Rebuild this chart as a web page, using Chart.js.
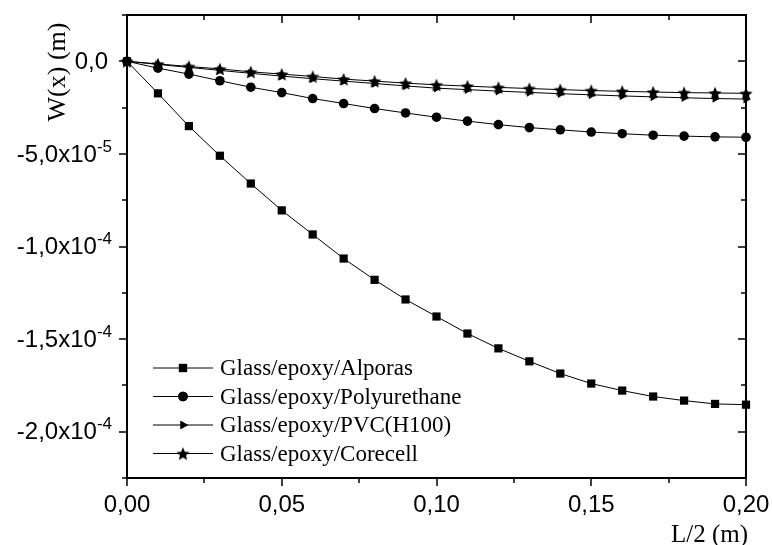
<!DOCTYPE html>
<html>
<head>
<meta charset="utf-8">
<script src="https://cdn.jsdelivr.net/npm/chart.js@4.4.0/dist/chart.umd.min.js"></script>
<style>
  html, body { margin: 0; background: #fff; }
</style>
</head>
<body>
<canvas id="chart" width="772" height="545"></canvas>
<script>
// data (W in metres, x = L/2 in metres)
const xValues = [0, 0.01, 0.02, 0.03, 0.04, 0.05, 0.06, 0.07, 0.08, 0.09, 0.10,
  0.11, 0.12, 0.13, 0.14, 0.15, 0.16, 0.17, 0.18, 0.19, 0.20];
const alporas = [0, -1.73e-5, -3.5e-5, -5.1e-5, -6.6e-5, -8.05e-5, -9.35e-5, -1.065e-4,
  -1.18e-4, -1.286e-4, -1.378e-4, -1.47e-4, -1.55e-4, -1.62e-4, -1.686e-4, -1.74e-4,
  -1.778e-4, -1.81e-4, -1.832e-4, -1.85e-4, -1.854e-4];
const polyurethane = [0, -0.37e-5, -0.69e-5, -1.05e-5, -1.4e-5, -1.69e-5, -2.01e-5, -2.28e-5,
  -2.55e-5, -2.79e-5, -3.02e-5, -3.23e-5, -3.42e-5, -3.58e-5, -3.7e-5, -3.82e-5,
  -3.91e-5, -3.99e-5, -4.04e-5, -4.08e-5, -4.1e-5];
const pvc = [0, -0.17e-5, -0.33e-5, -0.49e-5, -0.65e-5, -0.8e-5, -0.94e-5, -1.07e-5,
  -1.2e-5, -1.33e-5, -1.45e-5, -1.53e-5, -1.61e-5, -1.68e-5, -1.75e-5, -1.81e-5,
  -1.87e-5, -1.92e-5, -1.97e-5, -2.01e-5, -2.04e-5];
const corecell = [0, -0.14e-5, -0.28e-5, -0.41e-5, -0.57e-5, -0.69e-5, -0.82e-5, -0.96e-5,
  -1.07e-5, -1.18e-5, -1.27e-5, -1.34e-5, -1.41e-5, -1.47e-5, -1.53e-5, -1.58e-5,
  -1.62e-5, -1.66e-5, -1.69e-5, -1.71e-5, -1.73e-5];

const seriesNames = ["Glass/epoxy/Alporas", "Glass/epoxy/Polyurethane",
  "Glass/epoxy/PVC(H100)", "Glass/epoxy/Corecell"];

const xTickValues = [0, 0.05, 0.10, 0.15, 0.20];
const xTickLabels = ["0,00", "0,05", "0,10", "0,15", "0,20"];
const xMinorValues = [0.025, 0.075, 0.125, 0.175];
const yTickValues = [0, -5e-5, -1e-4, -1.5e-4, -2e-4];
const yTickMain = ["0,0", "-5,0x10", "-1,0x10", "-1,5x10", "-2,0x10"];
const yTickExp = ["", "-5", "-4", "-4", "-4"];
const yMinorValues = [2.5e-5, -2.5e-5, -7.5e-5, -1.25e-4, -1.75e-4, -2.25e-4];

// filled five-point star used as marker
function makeStar(r) {
  const c = document.createElement("canvas");
  const s = Math.ceil(r * 2 + 2);
  c.width = s; c.height = s;
  const g = c.getContext("2d");
  g.fillStyle = "#000";
  g.beginPath();
  for (let i = 0; i < 10; i++) {
    const rad = i % 2 === 0 ? r : r * 0.45;
    const a = -Math.PI / 2 + i * Math.PI / 5;
    const px = s / 2 + rad * Math.cos(a), py = s / 2 + 0.8 + rad * Math.sin(a);
    if (i === 0) g.moveTo(px, py); else g.lineTo(px, py);
  }
  g.closePath();
  g.fill();
  return c;
}
const starImg = makeStar(7);

function pts(ys) {
  return xValues.map((x, i) => ({ x: x, y: ys[i] }));
}

function series(label, ys, style, radius, rotation) {
  return {
    label: label,
    data: pts(ys),
    borderColor: "#000",
    backgroundColor: "#000",
    borderWidth: 1,
    pointStyle: style,
    pointRadius: radius,
    pointHoverRadius: radius,
    pointRotation: rotation || 0,
    pointBorderWidth: 0,
    pointBackgroundColor: "#000",
    tension: 0,
    clip: false,
  };
}

const axesPlugin = {
  id: "originAxes",
  afterDraw(chart) {
    const ctx = chart.ctx;
    const a = chart.chartArea;
    const xs = chart.scales.x, ys = chart.scales.y;
    ctx.save();
    ctx.strokeStyle = "#000";
    ctx.fillStyle = "#000";

    // frame
    ctx.lineWidth = 2;
    ctx.strokeRect(a.left, a.top, a.right - a.left, a.bottom - a.top);

    // ticks
    ctx.lineWidth = 1.5;
    ctx.beginPath();
    xTickValues.forEach(v => {
      const p = Math.round(xs.getPixelForValue(v));
      ctx.moveTo(p, a.bottom); ctx.lineTo(p, a.bottom + 8);
      ctx.moveTo(p, a.top); ctx.lineTo(p, a.top + 8);
    });
    xMinorValues.forEach(v => {
      const p = Math.round(xs.getPixelForValue(v));
      ctx.moveTo(p, a.bottom); ctx.lineTo(p, a.bottom + 5);
      ctx.moveTo(p, a.top); ctx.lineTo(p, a.top + 5);
    });
    yTickValues.forEach(v => {
      const p = Math.round(ys.getPixelForValue(v));
      ctx.moveTo(a.left, p); ctx.lineTo(a.left - 8, p);
      ctx.moveTo(a.right, p); ctx.lineTo(a.right - 8, p);
    });
    yMinorValues.forEach(v => {
      const p = Math.round(ys.getPixelForValue(v));
      ctx.moveTo(a.left, p); ctx.lineTo(a.left - 5, p);
      ctx.moveTo(a.right, p); ctx.lineTo(a.right - 5, p);
    });
    ctx.stroke();

    // x tick labels
    ctx.font = "24px 'Liberation Sans', Arial, sans-serif";
    ctx.textAlign = "center";
    ctx.textBaseline = "middle";
    xTickValues.forEach((v, i) => {
      ctx.fillText(xTickLabels[i], xs.getPixelForValue(v), a.bottom + 27);
    });

    // y tick labels with superscript exponent
    yTickValues.forEach((v, i) => {
      const p = ys.getPixelForValue(v);
      ctx.textAlign = "right";
      if (yTickExp[i]) {
        const right = a.left - 15;
        ctx.font = "17px 'Liberation Sans', Arial, sans-serif";
        const ew = ctx.measureText(yTickExp[i]).width;
        ctx.fillText(yTickExp[i], right, p - 7);
        ctx.font = "24px 'Liberation Sans', Arial, sans-serif";
        ctx.fillText(yTickMain[i], right - ew, p + 1);
      } else {
        ctx.font = "24px 'Liberation Sans', Arial, sans-serif";
        ctx.fillText(yTickMain[i], a.left - 19, p + 1);
      }
    });

    // axis titles
    ctx.font = "25px 'Liberation Serif', 'Times New Roman', serif";
    ctx.textAlign = "right";
    ctx.fillText("L/2 (m)", a.right + 2, a.bottom + 57);
    ctx.save();
    ctx.translate(58, 72);
    ctx.rotate(-Math.PI / 2);
    ctx.textAlign = "center";
    ctx.font = "26px 'Liberation Serif', 'Times New Roman', serif";
    ctx.fillText("W(x) (m)", 0, 0);
    ctx.restore();

    // legend
    ctx.font = "23px 'Liberation Serif', 'Times New Roman', serif";
    ctx.textAlign = "left";
    chart.data.datasets.forEach((ds, i) => {
      const y = 368 + i * 28.5;
      ctx.lineWidth = 1;
      ctx.beginPath();
      ctx.moveTo(153, y); ctx.lineTo(213, y);
      ctx.stroke();
      Chart.helpers.drawPoint(ctx, {
        pointStyle: ds.pointStyle,
        radius: ds.pointRadius,
        rotation: ds.pointRotation,
        borderWidth: 0,
      }, 183, y);
      ctx.fill();
      ctx.fillText(ds.label, 220, y + 1);
    });
    ctx.restore();
  },
};

function noSize(scale) {
  if (scale.isHorizontal()) scale.height = 0; else scale.width = 0;
}

new Chart(document.getElementById("chart"), {
  type: "line",
  data: {
    datasets: [
      series(seriesNames[0], alporas, "rect", 5.8),
      series(seriesNames[1], polyurethane, "circle", 4.8),
      series(seriesNames[2], pvc, "triangle", 5, 90),
      series(seriesNames[3], corecell, starImg, 7),
    ],
  },
  options: {
    responsive: false,
    animation: false,
    layout: { padding: { left: 127, right: 26, top: 15, bottom: 67 } },
    plugins: { legend: { display: false }, tooltip: { enabled: false } },
    scales: {
      x: {
        type: "linear",
        min: 0,
        max: 0.2,
        grid: { display: false },
        border: { display: false },
        ticks: { display: false },
        afterFit: noSize,
      },
      y: {
        type: "linear",
        min: -2.25e-4,
        max: 2.5e-5,
        grid: { display: false },
        border: { display: false },
        ticks: { display: false },
        afterFit: noSize,
      },
    },
  },
  plugins: [axesPlugin],
});
</script>
</body>
</html>
